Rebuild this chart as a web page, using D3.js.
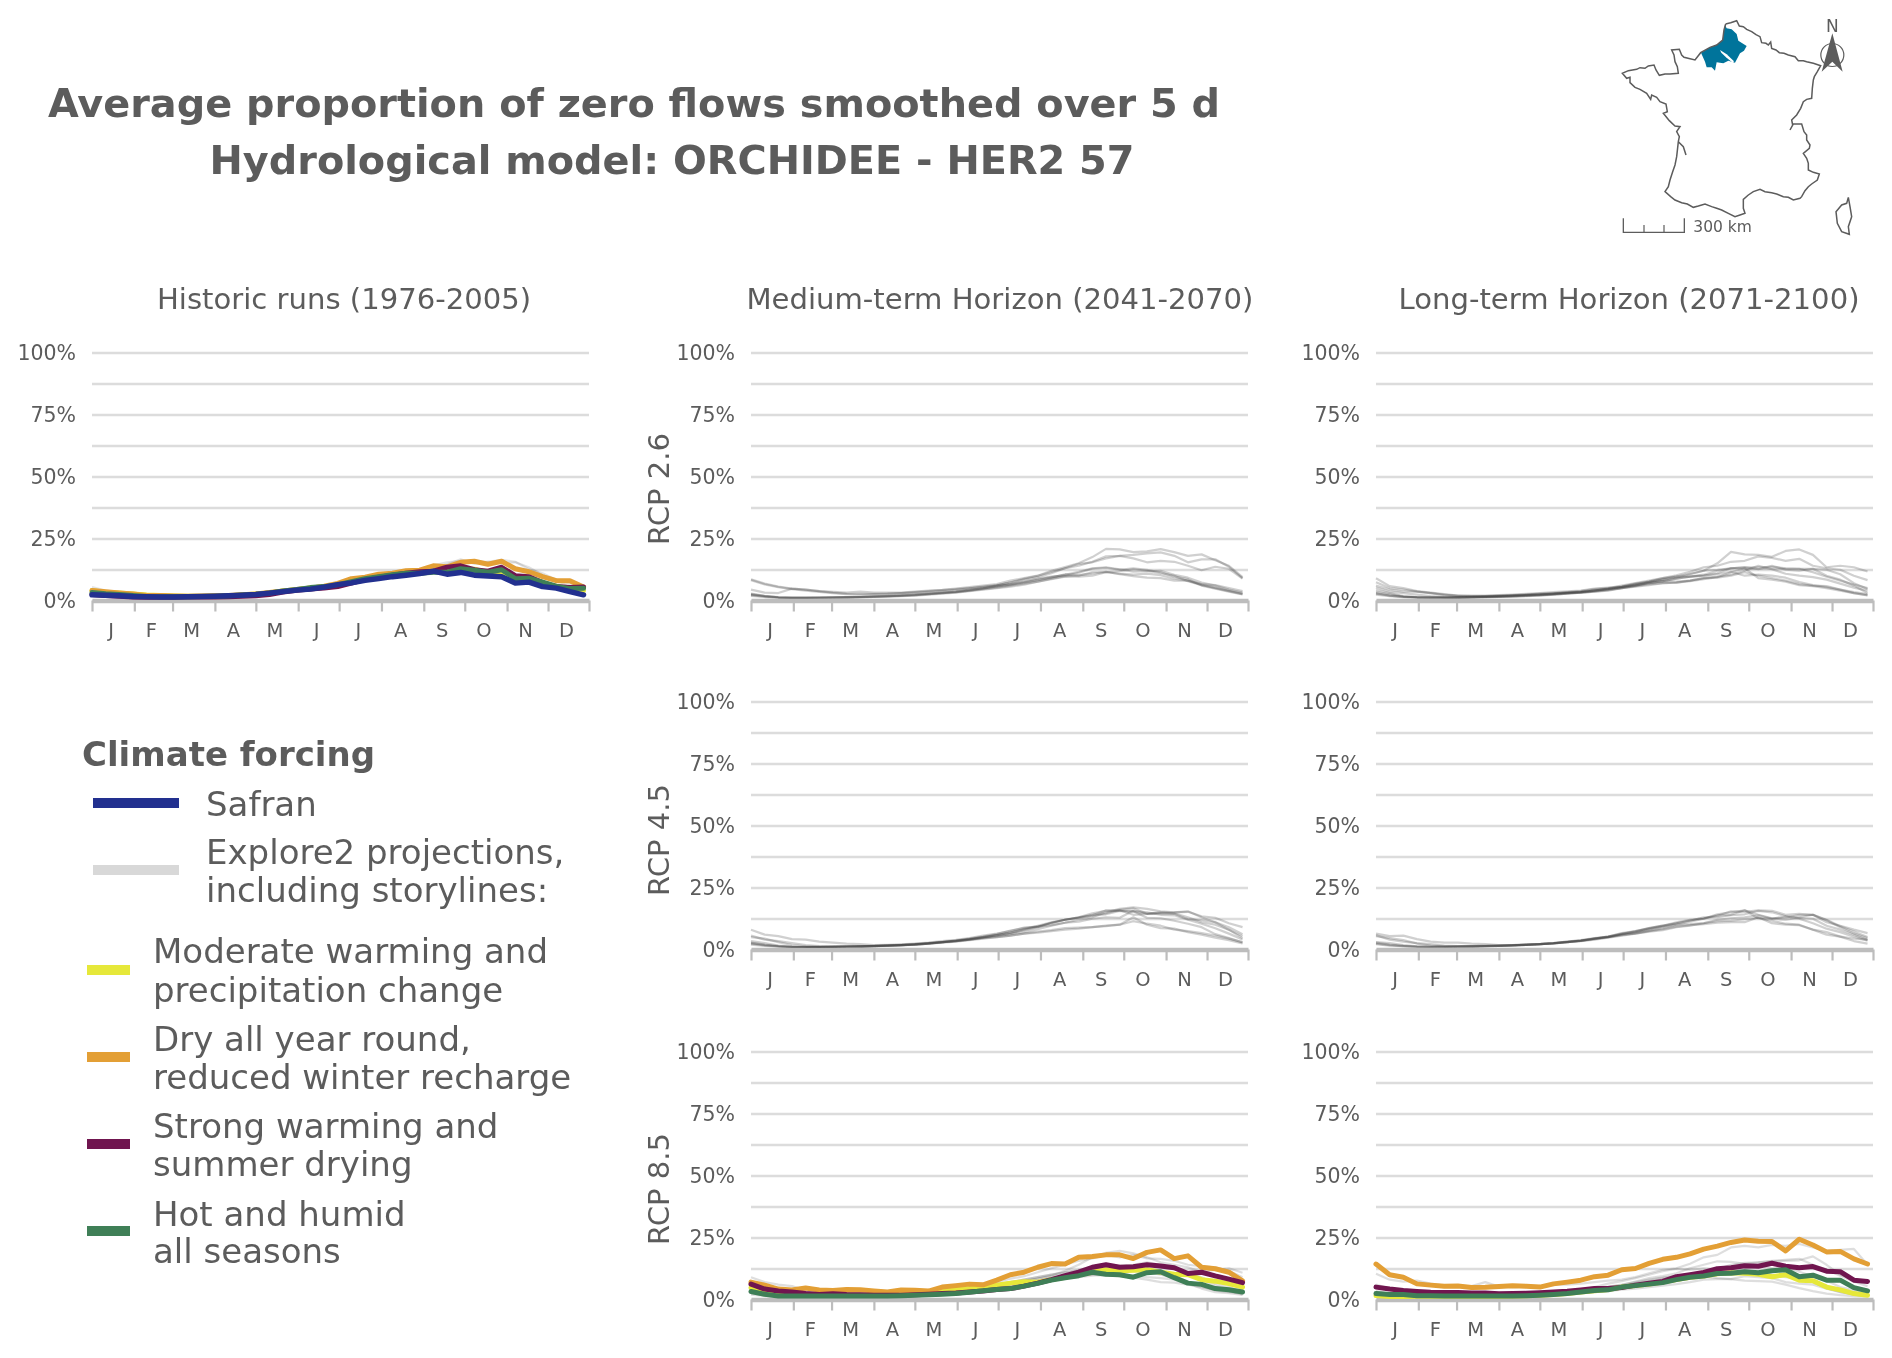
<!DOCTYPE html>
<html>
<head>
<meta charset="utf-8">
<script src="https://cdn.jsdelivr.net/npm/d3@7"></script>
<style>
  body { margin: 0; background: #fff; }
  svg { filter: blur(0.6px); }
  text { font-family: "DejaVu Sans", sans-serif; fill: #5c5c5c; }
</style>
</head>
<body>
<svg id="chart" width="1892" height="1358"></svg>
<script>
// Data -----------------------------------------
// one value every 10 days from 1 January, % of zero flows
var days = d3.range(1, 366, 10);
var monthNames = ["J","F","M","A","M","J","J","A","S","O","N","D"];
var monthStarts = [1,32,60,91,121,152,182,213,244,274,305,335,365];
var pctTicks = [0,12.5,25,37.5,50,62.5,75,87.5,100];

var histGrey = [
  [5.4,4,3.4,3.2,2.6,2.2,1.9,1.7,1.7,1.8, 2,2.2,2.6,3,4,4.6,5,5.8,6.8, 8.4,9.4,10.8,11,11.6,12.4,14.2,15.4,16, 15.8,15.6,16.4,15.6,12.6,11,8.4,6.8,5.2],
  [4,3,2.8,2.2,1.8,1.6,1.5,1.5,1.6,1.7, 1.9,2.1,2.4,2.9,3.6,4.4,5,5.6,6.6, 7.4,8.6,9.8,10.6,11.4,11.6,13,14.6,16.6, 14.8,15.6,15,15.4,13.4,10.2,8.4,5.2,4],
  [2.8,2.2,1.8,1.6,1.4,1.4,1.4,1.5,1.6,1.7, 1.9,2.1,2.4,2.8,3.4,4.2,4.6,5.2,6, 7,8,9,9.8,10.4,10.8,11.6,11.4,12, 11.6,11,11,8.6,8.8,6.8,5.4,4,3],
  [3,2.4,2,1.7,1.5,1.4,1.4,1.5,1.6,1.7, 1.9,2.1,2.4,2.8,3.6,4.2,4.8,5.4,6.2, 7.2,8.2,9.2,10,10.6,11,12,12.4,12.8, 12,11.8,13,10,9.4,7.4,5.6,4.6,4.2]
];
var histYellow = [4,3.2,3,2.6,2.2,2,1.8,1.7,1.7,1.8, 1.9,2.2,2.6,3,3.8,4.3,5,5.6,6.6, 7.4,8.4,9.6,10.4,10.8,11,11.8,11.4,12.4, 12.6,11,11.2,9,8.8,7,5.6,4.2,4];
var histOrange = [4,3.5,3,2.6,2,2,1.8,1.7,1.8,1.9, 2,2.3,2.6,3.2,3.8,4.4,5,5.8,6.9, 8.8,9.4,10.6,11,12,12.2,14,13.6,15.4, 15.8,14.6,15.8,12.8,11.6,9.6,8,8,5.4];
var histPurple = [2.4,2,1.7,1.4,1.3,1.3,1.3,1.4,1.4,1.4, 1.5,1.7,1.9,2.4,3.4,4.1,4.6,5,5.6, 7,8.4,9.4,10.2,11,11.6,11.8,13.4,14, 12.4,11.8,13.4,10,9.6,7.2,5.6,5.2,5.4];
var histGreen = [3.2,2.7,2.4,2,1.6,1.5,1.5,1.5,1.6,1.7, 1.9,2.2,2.5,3,3.8,4.4,5.2,5.6,6.4, 7.6,8.8,9.6,10.4,11,11,11.4,11.4,12.8, 12.2,11.4,12.4,8.8,9,7.4,5.8,4.8,4.9];
var histSafran = [2.3,2.1,1.9,1.6,1.5,1.4,1.4,1.5,1.6,1.7, 1.9,2.1,2.4,3,3.6,4.2,4.6,5.4,6.4, 7.1,8.1,8.8,9.6,10.2,10.9,11.8,10.6,11.3, 10.2,9.9,9.6,7,7.4,5.6,5,3.6,2.3];

var rcp26Mid = [
  [8.5,6.8,5.6,4.8,4.4,3.8,3.2,2.8,2.7,2.7, 2.8,3,3.2,3.5,3.9,4.3,4.9,5.4,6, 7.3,8.7,10,12,13.5,15,17.5,20.8,20.6, 19.5,19.8,20.7,19.5,18,18.6,16.2,14,9.4],
  [8.2,6.5,5.4,4.6,4,3.5,3,2.6,2.5,2.6, 2.7,3,3.4,3.8,4.2,4.6,5,5.6,6.2, 7.2,8.4,9.4,11,13,14.8,15.4,17,18, 17,15.4,16,15.6,14,12.2,13.6,12.8,8.8],
  [4.4,3.2,3,4.8,4.4,3.8,3.5,3.2,3.6,3.2, 3.2,3.2,3.6,4,4.3,4.8,5.4,6,6.6, 8,9,10,11.5,13,14,15.6,17.8,18, 18.4,19,19.4,18,15.4,16.6,16.6,13.6,9],
  [2.4,1.8,1.3,1.2,1.2,1.2,1.3,1.4,1.5,1.7, 1.8,2,2.2,2.6,3,3.4,4,4.6,5.2, 6,6.8,7.6,8.6,9.6,10,11.4,11.4,11.8, 12.6,12,11,10,7.8,6.2,5.2,4,2.8],
  [2.6,1.8,1.3,1.1,1.1,1.2,1.2,1.3,1.4,1.5, 1.6,1.8,2,2.4,2.8,3.2,3.8,4.4,5, 5.6,6.4,7.6,8.8,9.8,9.6,10,11.4,10.8, 10.4,10.8,10.2,8.8,8,6.4,5,3.8,2.6],
  [2.2,1.6,1.2,1.1,1.1,1.1,1.2,1.3,1.4,1.6, 1.8,2,2.4,2.8,3.2,3.6,4.4,5,6, 6.6,7.6,8.8,9.6,10,11.2,12.8,13.2,12.4, 13,12.4,11.4,9.6,8.6,6,4.8,3.6,2.4],
  [1.9,1.4,1.1,1,1,1.1,1.2,1.3,1.4,1.5, 1.7,1.9,2.2,2.6,3,3.4,4,4.8,5.8, 6.4,7.2,8.4,9.4,10.4,11.6,13,13.4,12.6, 11.6,11.8,12,10.4,9.2,7.2,6,4.4,3.2],
  [2.8,1.9,1.4,1.2,1.2,1.2,1.3,1.4,1.5,1.7, 1.9,2.2,2.5,2.8,3.2,3.6,4.2,5,5.6, 6.4,7.4,8.2,9.2,10.6,10.2,10.8,11.6,10.6, 9.8,9.2,9,8,8,6.6,6.2,5,3.8]
];
var rcp26Long = [
  [9,5.8,5,3.8,3.2,2.6,2,2,2,2.2, 2.4,2.7,3,3.4,3.7,4,4.8,5.2,5.6, 6.8,7.6,8.6,9.6,10.8,12,15,19.6,18.6, 18.4,17.6,20,20.6,18.4,13.4,14,13.4,11.7],
  [7.4,5,4.4,3.6,3,2.4,1.8,1.8,1.8,2, 2.2,2.4,2.8,3,3.4,3.8,4.6,5,6, 7,8,9,10.2,11.6,13.4,14,15.6,16, 17.8,17.2,16,16.8,14,13,12.4,10,8.2],
  [5.2,3.6,3,2.4,1.8,1.4,1.3,1.4,1.5,1.7, 1.9,2.2,2.4,2.8,3.2,3.4,4,4.6,5.4, 6.2,7,7.8,8.8,9.6,10.4,12,13,12.8, 12.8,12.8,12.8,12.8,12.8,12.4,10.6,7,4.6],
  [3.4,2.6,1.6,1.4,1.3,1.3,1.3,1.4,1.5,1.6, 1.8,2,2.2,2.6,3,3.4,4,4.6,5.4, 6,7,7.8,7.6,8,9,9.6,10.4,12, 14,12.6,10.8,10,9.4,8.4,6.8,5.2,4],
  [4.2,3,1.8,1.3,1.1,1.1,1.1,1.2,1.3,1.5, 1.6,1.9,2.2,2.4,2.8,3.2,3.8,4.4,5, 5.6,6.2,7,7.2,8,9,9.2,10,11.4, 10,9,8,6.6,6,5.8,4.4,3,2],
  [2.4,1.8,1.4,1.2,1.2,1.2,1.3,1.4,1.6,1.8, 2,2.2,2.4,2.6,3,3.2,3.6,4.2,5, 5.8,6.6,7,7.2,7.8,8.6,9.4,11.4,13, 9,8.4,7.6,6.2,5.8,5,4,3,2.2],
  [2.8,2,1.5,1.3,1.3,1.3,1.4,1.5,1.7,1.9, 2.1,2.4,2.6,2.9,3.2,3.6,4.2,4.8,5.6, 6.6,7.6,9,9.6,9.6,10,10.6,11.6,10, 10.4,10,9.2,7.4,6.2,5.4,4.4,3.4,2.6],
  [6,4.4,3.6,3.6,3,2.2,2,1.8,1.6,1.5, 1.6,1.8,2,2.4,2.8,3.2,3.6,4,5, 6,7.4,8.4,9.2,10.6,12,12.4,13,13.4, 13.4,13.6,13,12.8,11.4,9.6,8,6.4,5],
  [3,2,1.6,1.3,1.2,1.2,1.2,1.3,1.5,1.7, 1.9,2.1,2.4,2.7,3,3.4,4,4.8,5.4, 6.4,7.2,7.8,8.8,9.6,10,11,13,13.4, 12.6,14,12.4,12,12.8,10,8.4,6,3]
];
var rcp45Mid = [
  [8,6,5.4,4.2,4,3.2,2.8,2.4,2.2,1.8, 1.9,2.1,2.4,2.8,3.4,3.9,4.6,5.6,6.4, 7.4,8.8,9.2,9.8,10.8,12,13,15,16.4, 17,16.4,15.4,15,15.2,13.4,12.8,10.6,9],
  [5,4.4,3,1.8,1.3,1.1,1.1,1.2,1.3,1.4, 1.6,1.8,2.2,2.6,3,3.6,4.2,5,5.8, 6.4,7.8,9,10.8,12,12.8,13.8,15.8,15.6, 15.4,14.4,14.8,15,15.4,13,11,8,5.4],
  [3.4,2.6,1.6,1.2,1.1,1.1,1.1,1.2,1.3,1.4, 1.6,1.8,2,2.4,3,3.4,4,4.8,5.4, 6.2,7,8.2,9.6,10.8,11.2,12.4,13,12.8, 15.6,15,14,13.8,12,10.4,8.6,6.4,4],
  [2.4,1.7,1.2,1,1,1,1.1,1.2,1.3,1.4, 1.6,1.8,2,2.4,3,3.4,4,4.6,5, 5.6,6.4,6.8,7.4,8,8.4,9,9.4,10, 13,10,8.6,8.4,7,6,4.8,3.8,2.4],
  [2.6,1.8,1.3,1,1,1,1.1,1.2,1.3,1.4, 1.6,1.8,2.1,2.5,3,3.4,4,4.8,5.8, 6.8,8,9.2,10.8,12,12.8,13.6,14.2,15.6, 15.4,12.8,12.6,11.6,10.4,9,6.2,4.6,2.8],
  [2.8,2,1.4,1.1,1,1.1,1.1,1.2,1.3,1.4, 1.5,1.7,2,2.4,2.9,3.5,4.2,5,5.8, 6.8,8.2,9.6,11,12,13,14.6,15.6,15.8, 14,14.4,15,14.6,13,11,10,8,4.6],
  [2,1.5,1.2,1,1,1,1.1,1.2,1.3,1.5, 1.6,1.8,2,2.4,2.8,3.2,3.8,4.4,5, 5.6,6.4,7.2,7.8,8.6,8.8,9,9.6,10, 11.4,10.4,9.6,8,7.4,6.6,5.6,4.4,3],
  [5.6,4,3.4,2.6,1.8,1.4,1.3,1.3,1.4,1.5, 1.7,1.9,2.2,2.6,3,3.6,4.4,5.2,6.2, 7.6,8.6,9.2,10.6,12,13,14,14.6,16, 16.6,14.4,14.6,14.4,12.2,11.8,11,9,6.2]
];
var rcp45Long = [
  [6.4,5.4,5.6,4.2,3.2,2.8,2.8,2.4,2.2,1.8, 1.8,2,2.2,2.6,3.2,3.8,4.6,5.2,6.6, 7.4,8.6,9.6,10.6,11.8,12.4,13.6,15.4,15.2, 15.8,15.6,14,14.4,14,11,9.6,8,6.6],
  [5.4,4.6,3.8,2.4,1.6,1.3,1.3,1.4,1.5,1.5, 1.7,1.9,2.2,2.5,3,3.5,4.4,5,6.2, 7,8.2,9.2,10,11.2,12.4,14.2,15,15.8, 14,12.6,12.8,14,14,11.8,9,6.4,4.6],
  [3,2.6,1.8,1.3,1.1,1.1,1.2,1.3,1.4,1.5, 1.7,1.9,2.2,2.5,3,3.5,4.2,5,6, 6.4,7.4,8.2,9.2,9.8,10.2,10.8,11,11, 13,10.6,10,9.8,8,7,5.2,3.4,2.4],
  [2.4,1.8,1.4,1.1,1,1.1,1.2,1.3,1.4,1.5, 1.7,1.9,2.2,2.5,3,3.6,4.4,5.2,6.4, 7.2,8.6,9.6,11,12,12.6,13.8,14,15.8, 12.6,11.6,10.4,10,8,6,5.2,4.4,4],
  [2.2,1.6,1.3,1.1,1.1,1.1,1.2,1.3,1.4,1.5, 1.7,1.9,2.2,2.5,3,3.4,4,4.8,5.6, 6.4,7.2,7.8,9,9.6,10.6,12,12.6,13, 13.8,12.4,13.4,12.4,10.6,8.4,7,5.2,3.6],
  [2.8,2,1.5,1.2,1.2,1.2,1.2,1.3,1.4,1.6, 1.8,2,2.2,2.6,3.2,3.6,4.4,5.2,6.2, 7.4,8.4,9.4,10.6,11.6,13,13,13.8,14.2, 15.6,15,13.4,13,14,12,9.4,7.2,5],
  [5.8,4,3.2,2.6,2.2,1.6,1.4,1.4,1.5,1.6, 1.7,2,2.2,2.6,3,3.6,4.4,5,5.8, 6.6,7.6,8.6,10,10.2,10.6,11.4,11.6,12.2, 12.8,12.4,12,12.8,12.4,9.6,8,6,3.8]
];
var rcp85Mid = [
  [9,7,6,5.4,3.6,2.6,2.2,2,2,1.9, 1.9,2,2.2,2.6,3,3.6,4.4,5,6, 7,7.6,8.4,9.6,11.6,14,17,18.8,19.6, 18.6,17,15,14,13,11,12,12.6,10.8],
  [5.6,4.6,3.6,3.4,3,2.4,2.2,2,1.9,1.8, 1.9,2.1,2.4,2.8,3.4,4,4.8,5.6,7, 8.4,9.4,11,12.6,14,15.6,16.6,18,17, 18,16.6,16.4,15.6,14,13.4,13,11.6,9],
  [2.6,1.6,1.3,1.2,1.2,1.2,1.2,1.3,1.4,1.5, 1.6,1.8,2,2.4,2.8,3.2,3.8,4.4,5.2, 6,7,7.6,8.6,9.2,9.6,10,9.6,9.4, 9.6,9,8.6,8,6.4,4.4,3,2.6,1.8],
  [3,2.2,1.6,1.4,1.4,1.4,1.4,1.5,1.6,1.7, 1.8,2,2.2,2.6,3,3.4,4,4.6,5.2, 6.2,7.2,8.4,9.2,10,10,10.8,11.2,10.6, 11.4,11,10,8.6,7,5.4,3.6,3,2.6],
  [4,3,2.2,1.8,1.6,1.5,1.5,1.6,1.7,1.8, 2,2.2,2.6,3,3.4,4,4.8,5.4,6.2, 7,8,9,10,11,12,13,14,13.6, 14,15,14,12.4,10.6,8,5.6,4,3.2],
  [5,3.4,2.6,2.2,1.8,1.6,1.5,1.5,1.6,1.7, 1.8,2,2.2,2.6,3.2,3.8,4.4,5,6, 6.8,8,9,10,11,11.6,12,12.8,13.6, 13,13.8,13,12.2,11,9,6.4,5,3.2],
  [2,1.4,1.2,1.1,1.1,1.1,1.2,1.3,1.4,1.5, 1.6,1.8,2,2.2,2.6,3,3.6,4.2,5, 5.8,6.6,7.4,8,8.6,9,9.6,10,9.4, 8.8,8,7,6.8,6,5,4,3.4,2]
];
var midYellow = [4.8,3.2,2.4,2.1,2,1.9,1.8,1.8,1.8,1.7, 1.8,2,2.6,3,3.4,4,4.4,5,5.8, 6.6,7.2,7,8,9,10,11,12,11.6, 11.8,12,11,10.2,10,8,7.4,6.4,5];
var midOrange = [7,5.8,4.2,3.8,4.6,3.8,3.6,4,3.9,3.4, 3,3.8,3.7,3.4,5,5.6,6.2,5.9,7.8, 10,11,13,14.5,14.3,17,17.3,18,18, 16.5,19,20,16.5,17.6,13,12.4,11,7.5];
var midPurple = [6.2,4.2,3.4,3,2.4,2,2.3,2,1.9,1.7, 1.7,1.7,1.9,2.1,2.4,2.6,3,3.4,4, 4.4,5.4,6.6,8,9.6,11,13,14,13, 13.2,14,13.5,12.8,10.5,11,9.5,8.2,6.8];
var midGreen = [3.2,2.1,1.4,1.4,1.4,1.4,1.4,1.4,1.4,1.4, 1.4,1.5,1.7,1.9,2.1,2.4,2.9,3.5,4, 4.4,5.4,6.5,7.8,8.8,9.6,11,10.2,10, 9,10.8,11.2,8.8,6.6,6.1,4.4,3.9,3];

var rcp85Long = [
  [10.4,8,7.2,7.6,6.4,5.6,5.2,5.4,7,5.2, 5,5.2,5.2,6,6,6.4,7,7.6,8, 9,10.6,12,12.6,14.4,17,18,21,21.6, 21,22,21.6,22.4,21,19.6,20,20.4,14],
  [6,4.4,4,3.2,2.8,2.4,2.4,2.2,2.2,2, 2,2.2,2.6,2.8,3.2,3.8,4.2,5,5.8, 7.2,8.6,9.4,10.6,12.6,14,15.4,15.2,14.4, 15,15.4,15.6,15.8,17.4,14,10,8,7],
  [2,1.4,1.2,1.1,1.1,1.1,1.1,1.2,1.2,1.3, 1.4,1.6,1.8,2,2.2,2.6,3,3.4,4, 4.4,5,5.6,6.2,7,8,8.2,8.2,7.6, 7.4,7.2,6,4.6,3.4,2.4,1.8,1.4,1.2],
  [2.4,1.6,1.4,1.2,1.2,1.2,1.2,1.3,1.4,1.5, 1.6,1.8,2,2.4,2.8,3.2,3.8,4.6,5.4, 6.2,7,8,9,9.4,9.4,8.6,8.2,9.4, 9,8.6,7,6.4,6,4.4,3,2,1.4],
  [3,2,1.6,1.4,1.3,1.3,1.3,1.4,1.5,1.6, 1.8,2,2.2,2.6,3.2,3.8,5,6.4,7.4, 8.6,10,11.4,12.4,12,12.6,12.2,14,14.8, 15,15.6,16,16.4,14,12,9.6,7.2,5.4],
  [2.6,1.8,1.4,1.2,1.2,1.2,1.2,1.3,1.4,1.5, 1.7,1.9,2.2,2.6,3,3.6,4.4,5,5.6, 6.6,7.6,8.6,9.6,10,10.2,11,11,10.4, 10.6,10,9,8.6,7,4.6,3,2.2,1.6],
  [3.4,2.4,1.8,1.5,1.4,1.4,1.4,1.5,1.6,1.7, 1.9,2.2,2.4,2.8,3.4,4,4.6,5.2,6, 7,8,8.8,9.2,9.8,10.6,11.6,11.8,12.2, 13.4,12.6,12.8,11.2,9.4,7.6,5,3.8,2.4]
];
var longYellow = [1.6,1.2,1.2,1.3,1.3,1.3,1.3,1.3,1.3,1.3, 1.4,1.5,1.7,2,2.4,3,3.5,4,5, 5.6,6.2,7,8,9,9.5,10.4,10.8,10.6, 10.2,9.2,10,7.8,7.6,5,3.9,2.4,1.7];
var longOrange = [14.3,10,9,6.3,5.8,5.3,5.4,4.8,4.9,5.2, 5.5,5.3,5,6.3,7,7.8,9.2,9.8,12, 12.5,14.6,16.2,17,18.4,20.3,21.5,23,24, 23.5,23.4,19.6,24.3,22,19.2,19.4,16.4,14.3];
var longPurple = [5,4.2,3.6,3.2,2.9,2.8,2.8,2.6,2.6,2.3, 2.4,2.5,2.7,3,3.3,3.8,4.4,4.4,4.8, 5.8,6.6,7.3,9.2,10,10.9,12.4,12.8,13.6, 13.4,14.6,13.4,12.8,13.3,11.4,11.2,7.8,7.3];
var longGreen = [2.4,2,2,1.5,1.5,1.4,1.4,1.4,1.4,1.4, 1.4,1.5,1.7,2,2.4,3,3.6,3.9,5, 5.6,6.2,6.8,8,9,9.5,10.5,10.6,11.2, 10.8,11.6,12,9.2,9.8,7.8,7.8,4.8,3.5];

// Colours --------------------------------------
var colSafran = "#22308f", colGrey = "#d8d8d8", colYellow = "#e6e83a",
    colOrange = "#e39f35", colPurple = "#70154f", colGreen = "#3f7f57",
    colText = "#5c5c5c", colGrid = "#dcdcdc", colAxis = "#bdbdbd";

// Map, in units of a 936 x 750 sheet -----------
var franceOutline = [[437,72],[452,68],[470,62],[478,78],[490,80],[500,88],[515,95],[528,104],[540,110],[545,128],[558,130],[565,135],[572,126],[575,145],[588,150],[598,158],[612,160],[625,165],[645,170],[655,182],[670,182],[680,185],[700,190],[722,197],[712,215],[703,230],[700,240],[697,265],[695,295],[680,298],[670,305],[662,325],[650,345],[635,360],[638,375],[630,390],[640,372],[665,372],[672,395],[680,405],[680,420],[690,435],[688,445],[670,460],[680,475],[685,490],[685,510],[700,517],[718,522],[712,540],[695,552],[685,560],[675,572],[665,590],[660,595],[640,600],[625,592],[610,590],[590,582],[575,578],[555,575],[540,568],[520,575],[505,585],[490,598],[490,625],[495,640],[480,645],[465,650],[445,640],[425,630],[410,625],[395,620],[375,612],[355,618],[340,622],[322,612],[305,608],[285,600],[272,590],[255,575],[265,560],[270,540],[278,515],[285,495],[290,470],[295,425],[298,410],[290,395],[300,380],[285,378],[268,362],[250,340],[262,335],[258,312],[240,305],[230,292],[215,285],[212,298],[200,280],[180,268],[165,262],[150,248],[150,232],[140,235],[127,220],[145,212],[170,208],[180,203],[195,205],[205,198],[222,195],[228,210],[238,226],[255,222],[270,222],[295,220],[292,200],[285,185],[282,165],[275,150],[298,148],[305,165],[312,172],[345,180],[362,158],[390,142],[410,135],[428,120],[432,90],[437,72]];
var gironde = [[295,425],[310,440],[318,465]];
var corsica = [[805,592],[810,620],[815,650],[805,680],[808,703],[785,695],[772,670],[768,635],[785,615],[800,610],[805,592]];
var basin = [[435,75],[440,85],[455,88],[470,102],[475,122],[500,138],[492,152],[480,160],[465,188],[445,182],[430,190],[410,187],[405,212],[395,202],[380,202],[375,185],[363,158],[390,142],[410,135],[428,120],[432,90],[435,75]];
var basinGap = [[420,150],[440,163],[462,184],[458,188],[438,172],[424,158],[420,150]];
var arrow = [[757,100],[725,215],[757,185],[788,215],[757,100]];
var scaleBar = [[130,655],[130,697],[313,697],[313,655]];
var scaleTicks = [192,252];

// Layout ---------------------------------------
var svg = d3.select("#chart");
var panelW = 497, panelH = 248;

var x = d3.scaleLinear().domain([1, 365]).range([0, panelW]);
var y = d3.scaleLinear().domain([0, 100]).range([panelH, 0]);

var line = d3.line()
    .x(function(d, i) { return x(days[i]); })
    .y(function(d) { return y(d); });

var panels = [
  { left: 92,   top: 352.5,  grey: histGrey,  colour: [[histYellow,colYellow],[histOrange,colOrange],[histPurple,colPurple],[histGreen,colGreen],[histSafran,colSafran]], alpha: 0.14 },
  { left: 751,  top: 352.5,  grey: rcp26Mid,  colour: [] },
  { left: 1376, top: 352.5,  grey: rcp26Long, colour: [] },
  { left: 751,  top: 701.5,  grey: rcp45Mid,  colour: [] },
  { left: 1376, top: 701.5,  grey: rcp45Long, colour: [] },
  { left: 751,  top: 1051.5, grey: rcp85Mid,  colour: [[midYellow,colYellow],[midOrange,colOrange],[midPurple,colPurple],[midGreen,colGreen]], alpha: 0.17 },
  { left: 1376, top: 1051.5, grey: rcp85Long, colour: [[longYellow,colYellow],[longOrange,colOrange],[longPurple,colPurple],[longGreen,colGreen]], alpha: 0.17 }
];

// Panels ---------------------------------------
panels.forEach(function(p) {
  var g = svg.append("g").attr("transform", "translate(" + p.left + "," + p.top + ")");

  var yAxis = d3.axisLeft(y)
      .tickValues(pctTicks)
      .tickSize(-panelW)
      .tickPadding(16)
      .tickFormat(function(d) { return d % 25 === 0 ? d + "%" : ""; });
  var ya = g.append("g").call(yAxis);
  ya.select(".domain").remove();
  ya.selectAll("line").attr("stroke", colGrid).attr("stroke-width", 2.4);
  ya.selectAll("text").attr("font-size", 20.5).attr("dy", "0.36em").style("fill", colText);

  var xAxis = d3.axisBottom(x)
      .tickValues(monthStarts)
      .tickSize(11)
      .tickSizeOuter(0)
      .tickFormat("");
  var xa = g.append("g").attr("transform", "translate(0," + panelH + ")").call(xAxis);
  xa.select(".domain").attr("stroke", colAxis).attr("stroke-width", 4.4);
  xa.selectAll("line").attr("stroke", colAxis).attr("stroke-width", 2.2);

  g.selectAll(".month")
      .data(monthNames)
      .enter()
      .append("text")
      .attr("class", "month")
      .attr("x", function(d, i) { return x((monthStarts[i] + monthStarts[i + 1]) / 2) - 2; })
      .attr("y", panelH + 36)
      .attr("text-anchor", "middle")
      .attr("font-size", 19.5)
      .text(function(d) { return d; });

  g.selectAll(".grey")
      .data(p.grey)
      .enter()
      .append("path")
      .attr("class", "grey")
      .attr("fill", "none")
      .attr("stroke", "#3a3a3a")
      .attr("stroke-opacity", p.alpha || 0.24)
      .attr("stroke-width", 2.2)
      .attr("stroke-linejoin", "round")
      .attr("d", line);

  p.colour.forEach(function(c) {
    g.append("path")
        .attr("fill", "none")
        .attr("stroke", c[1])
        .attr("stroke-width", c[1] === colSafran ? 5.4 : 5)
        .attr("stroke-linejoin", "round")
        .attr("stroke-linecap", "round")
        .attr("d", line(c[0]));
  });
});

// Titles ---------------------------------------
function label(txt, xp, yp, size, weight, anchor) {
  return svg.append("text")
      .attr("x", xp).attr("y", yp)
      .attr("font-size", size)
      .attr("font-weight", weight || "normal")
      .attr("text-anchor", anchor || "start")
      .text(txt);
}
label("Average proportion of zero flows smoothed over 5 d", 634, 117, 39.8, "bold", "middle");
label("Hydrological model: ORCHIDEE - HER2 57", 672, 174, 39.8, "bold", "middle");

label("Historic runs (1976-2005)", 344, 309, 29.1, "normal", "middle");
label("Medium-term Horizon (2041-2070)", 1000, 309, 29.1, "normal", "middle");
label("Long-term Horizon (2071-2100)", 1629, 309, 29.1, "normal", "middle");

[["RCP 2.6", 489], ["RCP 4.5", 840], ["RCP 8.5", 1189]].forEach(function(r) {
  label(r[0], 0, 0, 29.1, "normal", "middle")
      .attr("transform", "translate(669," + r[1] + ") rotate(-90)");
});

// Legend ---------------------------------------
label("Climate forcing", 82, 766, 34, "bold");

var legendKeys = [
  { x: 93, w: 86, y: 803,  c: colSafran, tx: 206, lines: ["Safran"], by: [816] },
  { x: 93, w: 86, y: 870,  c: colGrey,   tx: 206, lines: ["Explore2 projections,", "including storylines:"], by: [864, 902] },
  { x: 87, w: 43, y: 970,  c: colYellow, tx: 153, lines: ["Moderate warming and", "precipitation change"], by: [963, 1002] },
  { x: 87, w: 43, y: 1057, c: colOrange, tx: 153, lines: ["Dry all year round,", "reduced winter recharge"], by: [1051, 1089] },
  { x: 87, w: 43, y: 1144, c: colPurple, tx: 153, lines: ["Strong warming and", "summer drying"], by: [1138, 1176] },
  { x: 87, w: 43, y: 1231, c: colGreen,  tx: 153, lines: ["Hot and humid", "all seasons"], by: [1226, 1263] }
];
legendKeys.forEach(function(k) {
  svg.append("rect")
      .attr("x", k.x).attr("y", k.y - 5)
      .attr("width", k.w).attr("height", 10)
      .attr("fill", k.c);
  k.lines.forEach(function(t, i) { label(t, k.tx, k.by[i], 34); });
});

// Locator map ----------------------------------
var mapX = d3.scaleLinear().domain([0, 936]).range([1580, 1892]);
var mapY = d3.scaleLinear().domain([0, 750]).range([0, 250]);
var mapLine = d3.line()
    .x(function(d) { return mapX(d[0]); })
    .y(function(d) { return mapY(d[1]); });

svg.append("path").attr("d", mapLine(basin)).attr("fill", "#00749b");
svg.append("path").attr("d", mapLine(basinGap)).attr("fill", "#fff");
[franceOutline, gironde, corsica].forEach(function(s) {
  svg.append("path").attr("d", mapLine(s))
      .attr("fill", "none").attr("stroke", colText).attr("stroke-width", 1.5);
});

svg.append("circle")
    .attr("cx", mapX(757)).attr("cy", mapY(165)).attr("r", 11.5)
    .attr("fill", "none").attr("stroke", colText).attr("stroke-width", 1.2);
svg.append("path").attr("d", mapLine(arrow)).attr("fill", colText);
label("N", mapX(757), mapY(96), 17, "normal", "middle");

svg.append("path").attr("d", mapLine(scaleBar))
    .attr("fill", "none").attr("stroke", colText).attr("stroke-width", 1.3);
svg.selectAll(".sbtick")
    .data(scaleTicks)
    .enter()
    .append("line")
    .attr("class", "sbtick")
    .attr("x1", function(d) { return mapX(d); }).attr("x2", function(d) { return mapX(d); })
    .attr("y1", mapY(675)).attr("y2", mapY(697))
    .attr("stroke", colText).attr("stroke-width", 1.2);
label("300 km", mapX(340), mapY(695), 15.5);
</script>
</body>
</html>
